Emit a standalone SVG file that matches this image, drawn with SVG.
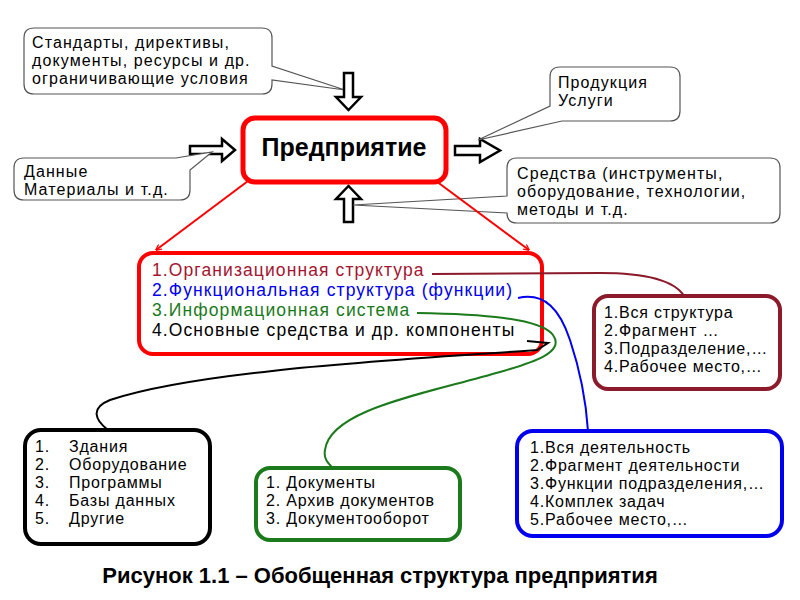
<svg xmlns="http://www.w3.org/2000/svg" width="800" height="600" viewBox="0 0 800 600">
<defs>
<marker id="redhead" viewBox="0 0 10 10" refX="9" refY="5" markerWidth="6" markerHeight="6" orient="auto" markerUnits="userSpaceOnUse">
<path d="M0 0 L10 5 L0 10" fill="none" stroke="#ff0000" stroke-width="2"/>
</marker>
<style>
text{font-family:"Liberation Sans",Arial,sans-serif;font-size:16px;letter-spacing:0.8px;fill:#000}
.co{letter-spacing:1.1px}
.callout{fill:#fff;stroke:#555;stroke-width:1.2}
.block{fill:#fff;stroke:#000;stroke-width:2.5;stroke-linejoin:miter}
.mid{font-size:17.5px;letter-spacing:1.1px}
.conn{fill:none;stroke-width:2}
</style>
</defs>
<rect width="800" height="600" fill="#fff"/>

<g id="standards">
<path class="callout" d="M34 28 H262 Q272 28 272 38 V66 L345 90 L272 80 V84 Q272 94 262 94 H34 Q24 94 24 84 V38 Q24 28 34 28 Z"/>
<text class="co" x="32" y="48">Стандарты, директивы,</text>
<text class="co" x="32" y="66">документы, ресурсы и др.</text>
<text class="co" x="32" y="84">ограничивающие условия</text>
</g>

<g id="arrow-down">
<path class="block" d="M344 73 H353 V97 H361 L348.5 110 L336 97 H344 Z"/>
</g>
<g id="arrow-up">
<path class="block" d="M344 222 H353 V199 H361 L348.5 186 L336 199 H344 Z"/>
</g>
<g id="arrow-left">
<path class="block" d="M190 146 V154 H222 V161 L235 150 L222 139 V146 Z"/>
</g>
<g id="arrow-right">
<path class="block" d="M455 146 V155 H480 V162 L500 150.5 L480 139 V146 Z"/>
</g>

<g id="products">
<path class="callout" d="M560 67 H670 Q680 67 680 77 V111 Q680 121 670 121 H562 L478 140 L550 106 V77 Q550 67 560 67 Z"/>
<text class="co" x="558" y="88">Продукция</text>
<text class="co" x="558" y="106">Услуги</text>
</g>

<g id="data">
<path class="callout" d="M24 158 H176 L212 152 L190 170 V190 Q190 200 180 200 H24 Q14 200 14 190 V168 Q14 158 24 158 Z"/>
<text class="co" x="24" y="177">Данные</text>
<text class="co" x="24" y="195">Материалы и т.д.</text>
</g>

<g id="means">
<path class="callout" d="M517 158 H770 Q780 158 780 168 V213 Q780 223 770 223 H517 Q507 223 507 213 L353 205 L507 196 V168 Q507 158 517 158 Z"/>
<text class="co" x="517" y="179">Средства (инструменты,</text>
<text class="co" x="517" y="197">оборудование, технологии,</text>
<text class="co" x="517" y="215">методы и т.д.</text>
</g>

<g id="enterprise">
<rect x="243" y="118" width="203" height="64" rx="12" fill="#fff" stroke="#ff0000" stroke-width="5"/>
<text x="344" y="156" text-anchor="middle" font-weight="bold" style="font-size:25px;letter-spacing:0">Предприятие</text>
</g>

<g id="components">
<rect x="139" y="253" width="403" height="101" rx="14" fill="#fff" stroke="#ff0000" stroke-width="4"/>
<text class="mid" x="152" y="276" style="fill:#a31530">1.Организационная структура</text>
<text class="mid" x="152" y="296" style="fill:#0000ee">2.Функциональная структура (функции)</text>
<text class="mid" x="152" y="316" style="fill:#1b7a1b">3.Информационная система</text>
<text class="mid" x="152" y="336">4.Основные средства и др. компоненты</text>
</g>

<g id="org-structure">
<rect x="594" y="296" width="186" height="93" rx="14" fill="#fff" stroke="#8b1a2b" stroke-width="4"/>
<text x="604" y="318">1.Вся структура</text>
<text x="604" y="336">2.Фрагмент …</text>
<text x="604" y="354">3.Подразделение,…</text>
<text x="604" y="372">4.Рабочее место,…</text>
</g>

<g id="assets">
<rect x="25" y="430" width="185" height="114" rx="16" fill="#fff" stroke="#000" stroke-width="4"/>
<text x="35" y="452">1.</text><text x="69" y="452">Здания</text>
<text x="35" y="470">2.</text><text x="69" y="470">Оборудование</text>
<text x="35" y="488">3.</text><text x="69" y="488">Программы</text>
<text x="35" y="506">4.</text><text x="69" y="506">Базы данных</text>
<text x="35" y="524">5.</text><text x="69" y="524">Другие</text>
</g>

<g id="info-system">
<rect x="256" y="468" width="204" height="72" rx="14" fill="#fff" stroke="#1b7a1b" stroke-width="4"/>
<text x="266" y="488">1. Документы</text>
<text x="266" y="506">2. Архив документов</text>
<text x="266" y="524">3. Документооборот</text>
</g>

<g id="functions">
<rect x="517" y="431" width="265" height="105" rx="16" fill="#fff" stroke="#0000ee" stroke-width="4"/>
<text x="530" y="453">1.Вся деятельность</text>
<text x="530" y="471">2.Фрагмент деятельности</text>
<text x="530" y="489">3.Функции подразделения,…</text>
<text x="530" y="507">4.Комплек задач</text>
<text x="530" y="525">5.Рабочее место,…</text>
</g>

<g id="connectors">
<line x1="248" y1="181" x2="156" y2="250" stroke="#ff0000" stroke-width="2" marker-end="url(#redhead)"/>
<line x1="436" y1="181" x2="529" y2="250" stroke="#ff0000" stroke-width="2" marker-end="url(#redhead)"/>
<path class="conn" stroke="#8b1a2b" d="M432 274 L600 273 Q670 273 684 296"/>
<path class="conn" stroke="#0000ee" d="M518 298 C545 292 560 310 570 340 C580 370 586 400 588 431"/>
<path class="conn" stroke="#1b7a1b" d="M417 313 C480 314 540 318 553 335 C565 352 535 362 500 372 C420 395 330 410 325 450 C323 460 330 465 333 468"/>
<path class="conn" stroke="#000" d="M527 341 L548 343 L537 350 C400 360 200 370 110 400 C90 408 95 420 108 430"/>
</g>

<g id="caption">
<text x="380" y="583" text-anchor="middle" font-weight="bold" style="font-size:22px;letter-spacing:0">Рисунок 1.1 – Обобщенная структура предприятия</text>
</g>
</svg>
